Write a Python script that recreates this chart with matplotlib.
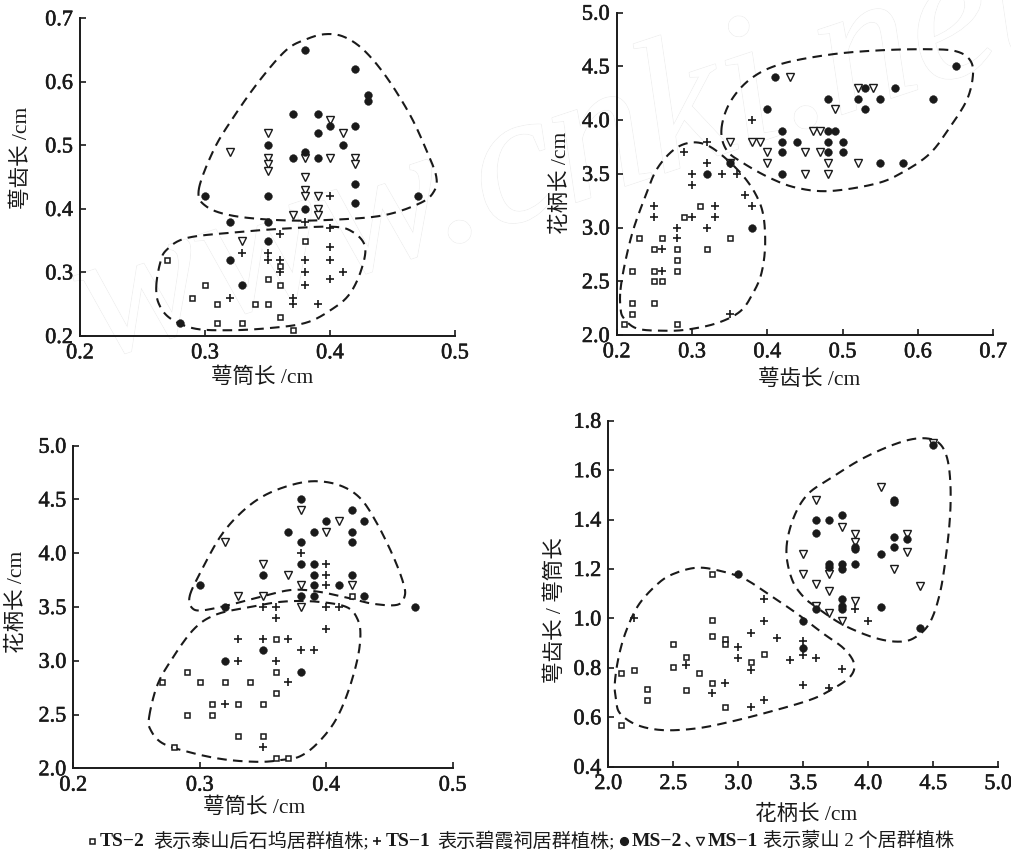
import numpy as np
import matplotlib
matplotlib.use('Agg')
import matplotlib.pyplot as plt
import matplotlib.patheffects as pe

plt.rcParams['font.family'] = ['Liberation Serif', 'Noto Sans CJK SC', 'DejaVu Sans']

W, H = 1011, 852

#panel 1: tube length (x) vs teeth length (y)
p1_ms2 = [(0.38,0.65),(0.42,0.62),(0.43,0.58),(0.43,0.57),(0.37,0.55),(0.39,0.55),(0.40,0.53),(0.42,0.53),(0.39,0.52),(0.35,0.50),(0.41,0.50),(0.38,0.49),(0.37,0.48),(0.39,0.48),(0.42,0.44),(0.30,0.42),(0.35,0.42),(0.47,0.42),(0.38,0.40),(0.42,0.41),(0.32,0.38),(0.35,0.38),(0.35,0.35),(0.32,0.32),(0.33,0.28),(0.28,0.22)]
p1_ms1 = [(0.40,0.54),(0.35,0.52),(0.41,0.52),(0.32,0.49),(0.35,0.48),(0.35,0.47),(0.35,0.46),(0.38,0.48),(0.40,0.48),(0.42,0.48),(0.42,0.47),(0.38,0.45),(0.38,0.43),(0.38,0.42),(0.39,0.42),(0.39,0.40),(0.39,0.39),(0.37,0.39),(0.33,0.35)]
p1_ts1 = [(0.40,0.42),(0.38,0.38),(0.40,0.37),(0.36,0.36),(0.40,0.34),(0.33,0.33),(0.35,0.33),(0.35,0.32),(0.36,0.32),(0.38,0.32),(0.40,0.32),(0.36,0.30),(0.38,0.30),(0.41,0.30),(0.40,0.29),(0.38,0.28),(0.32,0.26),(0.37,0.26),(0.37,0.25),(0.39,0.25)]
p1_ts2 = [(0.27,0.32),(0.36,0.31),(0.38,0.35),(0.35,0.29),(0.30,0.28),(0.36,0.28),(0.29,0.26),(0.31,0.25),(0.34,0.25),(0.35,0.25),(0.36,0.23),(0.31,0.22),(0.33,0.22),(0.37,0.21)]
p1_upper = [(.295,.43),(.307,.493),(.323,.545),(.344,.603),(.365,.65),(.381,.667),(.396,.675),(.411,.671),(.427,.65),(.445,.608),(.464,.548),(.477,.493),(.485,.451),(.483,.427),(.472,.409),(.443,.39),(.403,.383),(.363,.382),(.323,.389),(.301,.404)]
p1_lower = [(.261,.278),(.264,.314),(.269,.335),(.285,.354),(.323,.363),(.363,.369),(.402,.372),(.418,.364),(.428,.341),(.425,.304),(.416,.267),(.403,.244),(.381,.221),(.349,.212),(.317,.209),(.291,.212),(.272,.228),(.263,.251)]

#panel 2: teeth length (x) vs pedicel length (y)
p2_ms2 = [(0.65,4.5),(0.41,4.4),(0.53,4.3),(0.57,4.3),(0.48,4.2),(0.52,4.2),(0.55,4.2),(0.62,4.2),(0.40,4.1),(0.53,4.1),(0.42,3.9),(0.48,3.9),(0.49,3.9),(0.42,3.8),(0.44,3.8),(0.48,3.8),(0.50,3.8),(0.42,3.7),(0.48,3.7),(0.50,3.7),(0.55,3.6),(0.58,3.6),(0.42,3.5),(0.32,3.5),(0.38,3.0),(0.35,3.6)]
p2_ms1 = [(0.43,4.4),(0.52,4.3),(0.54,4.3),(0.49,4.1),(0.46,3.9),(0.47,3.9),(0.35,3.8),(0.38,3.8),(0.39,3.8),(0.40,3.7),(0.45,3.7),(0.47,3.7),(0.40,3.6),(0.48,3.6),(0.52,3.6),(0.45,3.5),(0.48,3.5),(0.35,3.6)]
p2_ts1 = [(0.38,4.0),(0.32,3.8),(0.29,3.7),(0.32,3.6),(0.30,3.5),(0.34,3.5),(0.36,3.5),(0.30,3.4),(0.37,3.3),(0.25,3.2),(0.33,3.2),(0.38,3.2),(0.25,3.1),(0.30,3.1),(0.33,3.1),(0.28,3.0),(0.32,3.0),(0.28,2.9),(0.26,2.8),(0.26,2.6),(0.35,2.2)]
p2_ts2 = [(0.31,3.2),(0.29,3.1),(0.23,2.9),(0.26,2.9),(0.35,2.9),(0.25,2.8),(0.28,2.8),(0.32,2.8),(0.28,2.7),(0.22,2.6),(0.25,2.6),(0.28,2.6),(0.25,2.5),(0.26,2.5),(0.22,2.3),(0.25,2.3),(0.22,2.2),(0.21,2.1),(0.28,2.1)]
p2_upper = [(.339,3.91),(.350,4.16),(.377,4.38),(.417,4.52),(.483,4.61),(.55,4.65),(.616,4.66),(.651,4.64),(.669,4.56),(.673,4.42),(.665,4.19),(.642,3.93),(.616,3.69),(.581,3.52),(.545,3.41),(.483,3.34),(.439,3.37),(.404,3.46),(.368,3.6),(.346,3.72)]
p2_lower = [(.205,2.42),(.211,2.67),(.222,2.98),(.238,3.29),(.253,3.54),(.275,3.72),(.297,3.79),(.319,3.77),(.342,3.66),(.368,3.48),(.386,3.29),(.395,3.1),(.397,2.82),(.392,2.57),(.381,2.39),(.364,2.22),(.333,2.11),(.293,2.05),(.262,2.04),(.227,2.06),(.209,2.16),(.205,2.26)]

#panel 3: tube length (x) vs pedicel length (y)
p3_ms2 = [(0.38,4.5),(0.42,4.4),(0.40,4.3),(0.43,4.3),(0.37,4.2),(0.39,4.2),(0.42,4.2),(0.38,4.1),(0.42,4.1),(0.38,3.9),(0.39,3.9),(0.35,3.8),(0.39,3.8),(0.42,3.8),(0.30,3.7),(0.39,3.7),(0.41,3.7),(0.38,3.6),(0.39,3.6),(0.43,3.6),(0.32,3.5),(0.47,3.5),(0.35,3.1),(0.32,3.0),(0.38,2.9)]
p3_ms1 = [(0.38,4.4),(0.41,4.3),(0.40,4.2),(0.32,4.1),(0.35,3.9),(0.37,3.8),(0.38,3.7),(0.42,3.7),(0.33,3.6),(0.35,3.6),(0.38,3.5)]
p3_ts1 = [(0.38,4.0),(0.40,3.9),(0.40,3.8),(0.40,3.7),(0.35,3.5),(0.36,3.5),(0.40,3.5),(0.41,3.5),(0.36,3.4),(0.40,3.3),(0.33,3.2),(0.35,3.2),(0.37,3.2),(0.38,3.1),(0.39,3.1),(0.33,3.0),(0.36,3.0),(0.37,2.8),(0.32,2.6),(0.35,2.2)]
p3_ts2 = [(0.42,3.6),(0.36,3.2),(0.29,2.9),(0.36,2.9),(0.27,2.8),(0.30,2.8),(0.32,2.8),(0.34,2.8),(0.36,2.7),(0.31,2.6),(0.33,2.6),(0.35,2.6),(0.29,2.5),(0.31,2.5),(0.33,2.3),(0.35,2.3),(0.28,2.2),(0.36,2.1),(0.37,2.1)]
p3_upper = [(.292,3.6),(.300,3.81),(.316,4.15),(.332,4.37),(.350,4.53),(.371,4.63),(.391,4.67),(.411,4.63),(.427,4.51),(.44,4.28),(.453,3.97),(.461,3.72),(.462,3.6),(.456,3.52),(.437,3.53),(.419,3.58),(.395,3.64),(.374,3.66),(.353,3.61),(.327,3.53),(.303,3.47),(.294,3.49)]
p3_lower = [(.26,2.48),(.266,2.76),(.276,2.98),(.295,3.29),(.313,3.43),(.34,3.5),(.366,3.55),(.392,3.55),(.416,3.5),(.425,3.38),(.427,3.22),(.424,2.98),(.416,2.67),(.406,2.42),(.392,2.22),(.379,2.11),(.366,2.08),(.348,2.06),(.321,2.08),(.295,2.14),(.271,2.23),(.261,2.36)]

#panel 4: pedicel length (x) vs teeth/tube ratio (y)
p4_ms2 = [(4.5,1.70),(4.2,1.48),(4.2,1.47),(3.8,1.42),(3.6,1.40),(3.7,1.40),(3.6,1.345),(4.2,1.33),(4.3,1.32),(4.2,1.29),(3.9,1.29),(3.9,1.28),(4.1,1.26),(3.7,1.22),(3.7,1.21),(3.8,1.22),(3.9,1.22),(3.8,1.20),(3.0,1.18),(3.8,1.08),(3.8,1.05),(3.8,1.04),(4.1,1.045),(3.6,1.04),(3.5,0.99),(4.4,0.96),(3.5,0.88)]
p4_ms1 = [(4.5,1.71),(4.1,1.53),(3.6,1.48),(3.8,1.37),(3.9,1.34),(4.3,1.34),(3.9,1.31),(4.3,1.27),(3.5,1.26),(4.2,1.2),(3.5,1.18),(3.7,1.18),(3.6,1.14),(4.4,1.13),(3.7,1.11),(3.9,1.07),(3.6,1.05),(3.7,1.02),(3.8,0.99)]
p4_ts1 = [(3.2,1.08),(2.2,1.0),(3.2,0.99),(3.9,1.04),(4.0,0.99),(3.1,0.94),(3.3,0.92),(3.5,0.91),(3.0,0.885),(3.5,0.85),(3.0,0.84),(3.6,0.84),(3.4,0.83),(2.6,0.81),(3.1,0.79),(3.8,0.795),(2.9,0.74),(3.5,0.73),(3.7,0.72),(2.8,0.70),(3.2,0.67),(3.1,0.64)]
p4_ts2 = [(2.8,1.18),(2.8,0.995),(2.8,0.93),(2.9,0.915),(2.9,0.895),(2.5,0.895),(2.6,0.845),(3.2,0.855),(3.1,0.825),(2.5,0.805),(2.2,0.79),(2.1,0.78),(2.7,0.78),(2.3,0.715),(2.6,0.71),(2.8,0.74),(2.3,0.67),(2.9,0.64),(2.1,0.57)]
p4_upper = [(3.37,1.277),(3.42,1.40),(3.53,1.50),(3.71,1.567),(3.96,1.648),(4.22,1.708),(4.40,1.729),(4.53,1.715),(4.60,1.66),(4.63,1.56),(4.63,1.425),(4.60,1.263),(4.55,1.10),(4.47,0.98),(4.35,0.92),(4.22,0.906),(4.04,0.923),(3.81,0.973),(3.63,1.034),(3.5,1.088),(3.41,1.162)]
p4_lower = [(2.05,0.737),(2.08,0.845),(2.14,0.953),(2.24,1.06),(2.40,1.149),(2.53,1.186),(2.68,1.205),(2.83,1.196),(3.04,1.162),(3.24,1.095),(3.45,1.02),(3.65,0.94),(3.81,0.879),(3.89,0.818),(3.86,0.764),(3.71,0.71),(3.55,0.67),(3.24,0.622),(2.94,0.582),(2.68,0.555),(2.42,0.548),(2.22,0.569),(2.09,0.616),(2.06,0.67)]

xt_tube = [0.2, 0.3, 0.4, 0.5]
xt_teeth = [0.2, 0.3, 0.4, 0.5, 0.6, 0.7]
xt_ped = [2.0, 2.5, 3.0, 3.5, 4.0, 4.5, 5.0]
yt_teeth = [0.2, 0.3, 0.4, 0.5, 0.6, 0.7]
yt_ped = [2.0, 2.5, 3.0, 3.5, 4.0, 4.5, 5.0]
yt_ratio = [0.4, 0.6, 0.8, 1.0, 1.2, 1.4, 1.6, 1.8]

DARK = '#1a1a1a'


def closed_curve(pts, n=24):
    #closed catmull-rom through the traced outline points
    p = np.array(pts, dtype=float)
    t = np.linspace(0, 1, n, endpoint=False)[:, None]
    out = []
    for i in range(len(p)):
        p0, p1, p2, p3 = p[i - 1], p[i], p[(i + 1) % len(p)], p[(i + 2) % len(p)]
        out.append(0.5 * (2 * p1 + (p2 - p0) * t + (2 * p0 - 5 * p1 + 4 * p2 - p3) * t**2 + (3 * p1 - p0 - 3 * p2 + p3) * t**3))
    out = np.vstack(out)
    return np.vstack([out, out[0]])


def panel(box, xlim, ylim, xticks, yticks, ms2, ms1, ts1, ts2, upper, lower):
    #box is left, right, top, bottom in pixels
    l, r, t, b = box
    ax = fig.add_axes([l / W, 1 - b / H, (r - l) / W, (b - t) / H])
    ax.patch.set_alpha(0)
    ax.set_xlim(xlim)
    ax.set_ylim(ylim)
    ax.spines['top'].set_visible(False)
    ax.spines['right'].set_visible(False)
    ax.spines['left'].set_linewidth(1.4)
    ax.spines['bottom'].set_linewidth(1.4)
    ax.spines['left'].set_color(DARK)
    ax.spines['bottom'].set_color(DARK)
    ax.set_xticks(xticks, [f'{v:.1f}' for v in xticks])
    ax.set_yticks(yticks, [f'{v:.1f}' for v in yticks])
    ax.tick_params(direction='in', length=4, width=1.2, labelsize=16, color=DARK, labelcolor=DARK)
    ax.tick_params(axis='x', pad=6)
    ax.tick_params(axis='y', pad=5)
    #regular digits thickened a little, the print is heavier than regular but lighter than bold
    for lab in ax.get_xticklabels() + ax.get_yticklabels():
        lab.set_path_effects([pe.withStroke(linewidth=0.4, foreground=DARK)])
    for outline in (upper, lower):
        c = closed_curve(outline)
        ax.plot(c[:, 0], c[:, 1], color=DARK, lw=1.5, dashes=(4.6, 3.0), clip_on=False)
    x, y = zip(*ts2)
    ax.plot(x, y, ls='none', marker='s', ms=3.6, mfc='white', mec=DARK, mew=1.1, clip_on=False)
    x, y = zip(*ms1)
    ax.plot(x, y, ls='none', marker='v', ms=5.4, mfc='white', mec=DARK, mew=1.0, clip_on=False)
    x, y = zip(*ts1)
    ax.plot(x, y, ls='none', marker='+', ms=6, mec=DARK, mew=1.2, clip_on=False)
    x, y = zip(*ms2)
    ax.plot(x, y, ls='none', marker='o', ms=5.6, mfc=DARK, mec=DARK, mew=0.3, clip_on=False)
    return ax


fig = plt.figure(figsize=(W / 100, H / 100), dpi=100)

#pixel space overlay for the labels, the key line and the watermark
over = fig.add_axes([0, 0, 1, 1], zorder=-1)
over.set_xlim(0, W)
over.set_ylim(H, 0)
over.axis('off')

wm = over.text(96, 361, 'www.cnki.net', fontsize=137, style='italic', rotation=18.3,
               rotation_mode='anchor', ha='left', va='baseline', color='white', zorder=0)
wm.set_path_effects([pe.withStroke(linewidth=1.0, foreground='#ececec'), pe.Normal()])

ax1 = panel((80, 455, 18.3, 336), (0.2, 0.5), (0.2, 0.7), xt_tube, yt_teeth, p1_ms2, p1_ms1, p1_ts1, p1_ts2, p1_upper, p1_lower)
ax2 = panel((616.7, 993.3, 12.7, 335), (0.2, 0.7), (2.0, 5.0), xt_teeth, yt_ped, p2_ms2, p2_ms1, p2_ts1, p2_ts2, p2_upper, p2_lower)
ax3 = panel((73.3, 452.7, 445.7, 768.3), (0.2, 0.5), (2.0, 5.0), xt_tube, yt_ped, p3_ms2, p3_ms1, p3_ts1, p3_ts2, p3_upper, p3_lower)
ax4 = panel((608.3, 998.3, 420.7, 766.7), (2.0, 5.0), (0.4, 1.8), xt_ped, yt_ratio, p4_ms2, p4_ms1, p4_ts1, p4_ts2, p4_upper, p4_lower)

labels = [
    (ax1, '萼筒长 /cm', (262, 378), '萼齿长 /cm', (22, 158)),
    (ax2, '萼齿长 /cm', (809, 380), '花柄长 /cm', (561, 183)),
    (ax3, '萼筒长 /cm', (254, 808), '花柄长 /cm', (17, 602)),
    (ax4, '花柄长 /cm', (806, 815), '萼齿长 / 萼筒长', (556, 610)),
]
for ax, xl, xpos, yl, ypos in labels:
    ax.set_xlabel(xl, fontsize=15.5, color=DARK, va='center', ha='center')
    ax.set_ylabel(yl, fontsize=15.5, color=DARK, va='center', ha='center')
    ax.xaxis.set_label_coords(xpos[0], xpos[1], transform=over.transData)
    ax.yaxis.set_label_coords(ypos[0], ypos[1], transform=over.transData)

#key line under the panels
key_y = 841
key_bold = [(100, 'TS−2'), (386, 'TS−1'), (632, 'MS−2'), (708, 'MS−1')]
key_plain = [(153, '表示泰山后石坞居群植株;'), (437, '表示碧霞祠居群植株;'), (684, '、'), (763, '表示蒙山 2 个居群植株')]
for x, s in key_bold:
    over.text(x, key_y, s, fontsize=14, fontweight='bold', color=DARK, va='center', ha='left')
for x, s in key_plain:
    over.text(x, key_y, s, fontsize=13.8, color=DARK, va='center', ha='left')
over.plot([92], [key_y], ls='none', marker='s', ms=3.6, mfc='white', mec=DARK, mew=1.1)
over.plot([377], [key_y], ls='none', marker='+', ms=5.4, mec=DARK, mew=1.2)
over.plot([624], [key_y], ls='none', marker='o', ms=5.6, mfc=DARK, mec=DARK)
over.plot([700], [key_y], ls='none', marker='v', ms=5.2, mfc='white', mec=DARK, mew=1.0)

fig.savefig('out.png', dpi=100)
